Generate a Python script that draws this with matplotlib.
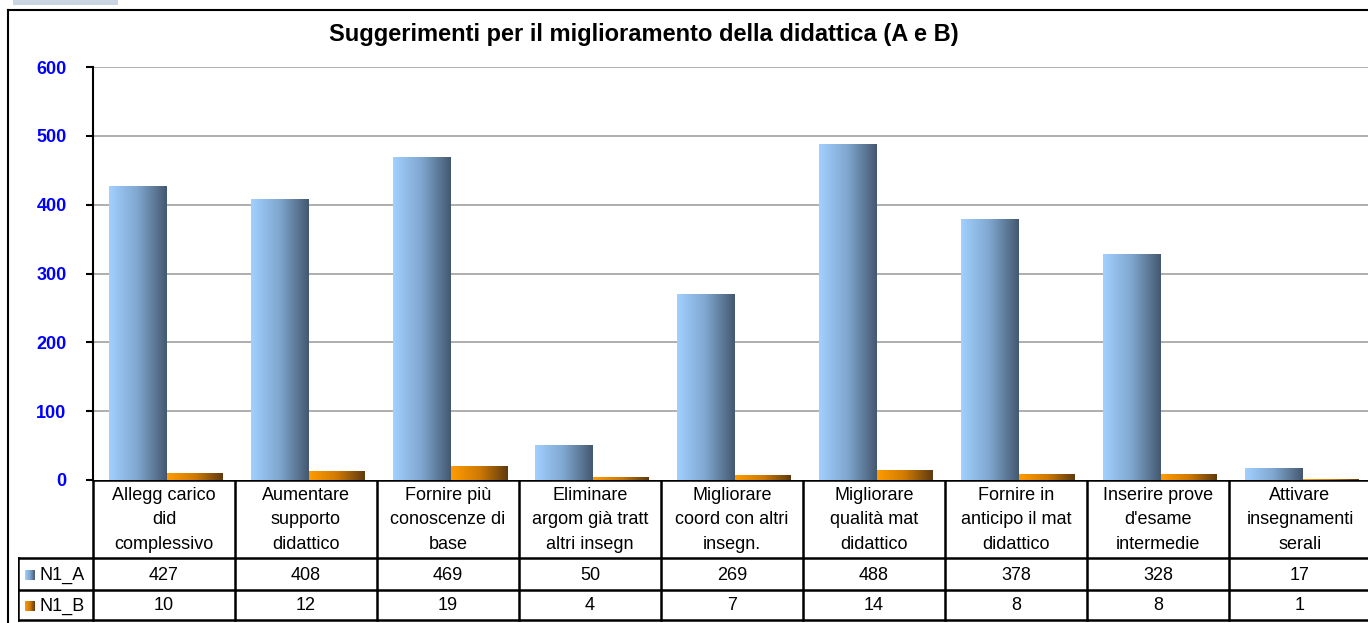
import numpy as np
import matplotlib
matplotlib.use("Agg")
import matplotlib.pyplot as plt
from matplotlib.colors import LinearSegmentedColormap
from matplotlib.lines import Line2D
from matplotlib.patches import Rectangle

plt.rcParams['font.family'] = ['Liberation Sans', 'DejaVu Sans']

title = "Suggerimenti per il miglioramento della didattica (A e B)"
categories = [
    "Allegg carico\ndid\ncomplessivo",
    "Aumentare\nsupporto\ndidattico",
    "Fornire più\nconoscenze di\nbase",
    "Eliminare\nargom già tratt\naltri insegn",
    "Migliorare\ncoord con altri\ninsegn.",
    "Migliorare\nqualità mat\ndidattico",
    "Fornire in\nanticipo il mat\ndidattico",
    "Inserire prove\nd'esame\nintermedie",
    "Attivare\ninsegnamenti\nserali",
]
series_names = ["N1_A", "N1_B"]
n1_a = [427, 408, 469, 50, 269, 488, 378, 328, 17]
n1_b = [10, 12, 19, 4, 7, 14, 8, 8, 1]
yticks = [0, 100, 200, 300, 400, 500, 600]

W, H = 1368, 623
COL = 142.0  # column width in px
fig = plt.figure(figsize=(W / 100, H / 100), dpi=100)

blue_cm = LinearSegmentedColormap.from_list("b", ["#a2d0ff", "#7fa6cf", "#44586f"])
orange_cm = LinearSegmentedColormap.from_list("o", ["#ff9c00", "#d07a05", "#5e3a10"])
grad = np.linspace(0, 1, 256).reshape(1, -1)


def fx(p):
    return p / W


def fy(p):
    return 1 - p / H


# outer frame and tab fragment
fig.add_artist(Rectangle((fx(13), fy(5)), fx(105), 5 / H, transform=fig.transFigure,
                         facecolor="#c9d5e3", edgecolor="none"))
fig.add_artist(Line2D([fx(8), fx(8)], [fy(10), 0], transform=fig.transFigure, color="black", lw=1.5))
fig.add_artist(Line2D([fx(8), 1], [fy(10), fy(10)], transform=fig.transFigure, color="black", lw=1.5))

# main plot
ax = fig.add_axes([fx(93), fy(480), fx(W - 93), (480 - 67) / H])
xmax = (W - 93) / COL
for i, (a, b) in enumerate(zip(n1_a, n1_b)):
    ax.imshow(grad, cmap=blue_cm, extent=[i + 16 / COL, i + 74 / COL, 0, a],
              aspect="auto", zorder=3, interpolation="bilinear")
    ax.imshow(grad, cmap=orange_cm, extent=[i + 74 / COL, i + 130 / COL, 0, b],
              aspect="auto", zorder=3, interpolation="bilinear")
ax.set_xlim(0, xmax)
ax.set_ylim(0, 600)
ax.set_yticks(yticks)
ax.set_xticks([])
for t in yticks[1:]:
    ax.axhline(t, color="#a0a0a0", lw=1.2, zorder=1)
for s in ["top", "right", "bottom"]:
    ax.spines[s].set_visible(False)
ax.spines["left"].set_linewidth(1.5)
ax.tick_params(axis="y", length=5, width=1.5, pad=14, labelsize=13, labelcolor="#0000ff")
for lab in ax.get_yticklabels():
    lab.set_fontweight("bold")

fig.text(fx(644), fy(34), title, ha="center", va="center", fontsize=17, fontweight="bold")

# data table
tx = fig.add_axes([fx(18), 0, fx(W - 18), fy(480)])
left = -75 / COL
tx.set_xlim(left, xmax)
tx.set_ylim(H, 480)
tx.axis("off")
lk = dict(color="black", lw=1.8, solid_capstyle="projecting")
tx.plot([0, xmax], [480, 480], **lk)
for yy in (558, 590, 620):
    tx.plot([left, xmax], [yy, yy], **lk)
tx.plot([left, left], [558, 620], **lk)
for i in range(len(categories) + 1):
    tx.plot([i, i], [480, 620], **lk)

for i, cat in enumerate(categories):
    tx.text(i + 0.5, 520, cat, ha="center", va="center", fontsize=13, linespacing=1.55)
    tx.text(i + 0.5, 575, str(n1_a[i]), ha="center", va="center", fontsize=13)
    tx.text(i + 0.5, 606, str(n1_b[i]), ha="center", va="center", fontsize=13)

for (name, cm, yy) in zip(series_names, [blue_cm, orange_cm], [575, 606]):
    tx.imshow(grad, cmap=cm, extent=[(25 - 93) / COL, (35 - 93) / COL, yy + 5, yy - 5],
              aspect="auto", interpolation="bilinear")
    tx.text((40 - 93) / COL, yy, name, ha="left", va="center", fontsize=13)
tx.set_xlim(left, xmax)
tx.set_ylim(H, 480)

fig.savefig("out.png", dpi=100)
